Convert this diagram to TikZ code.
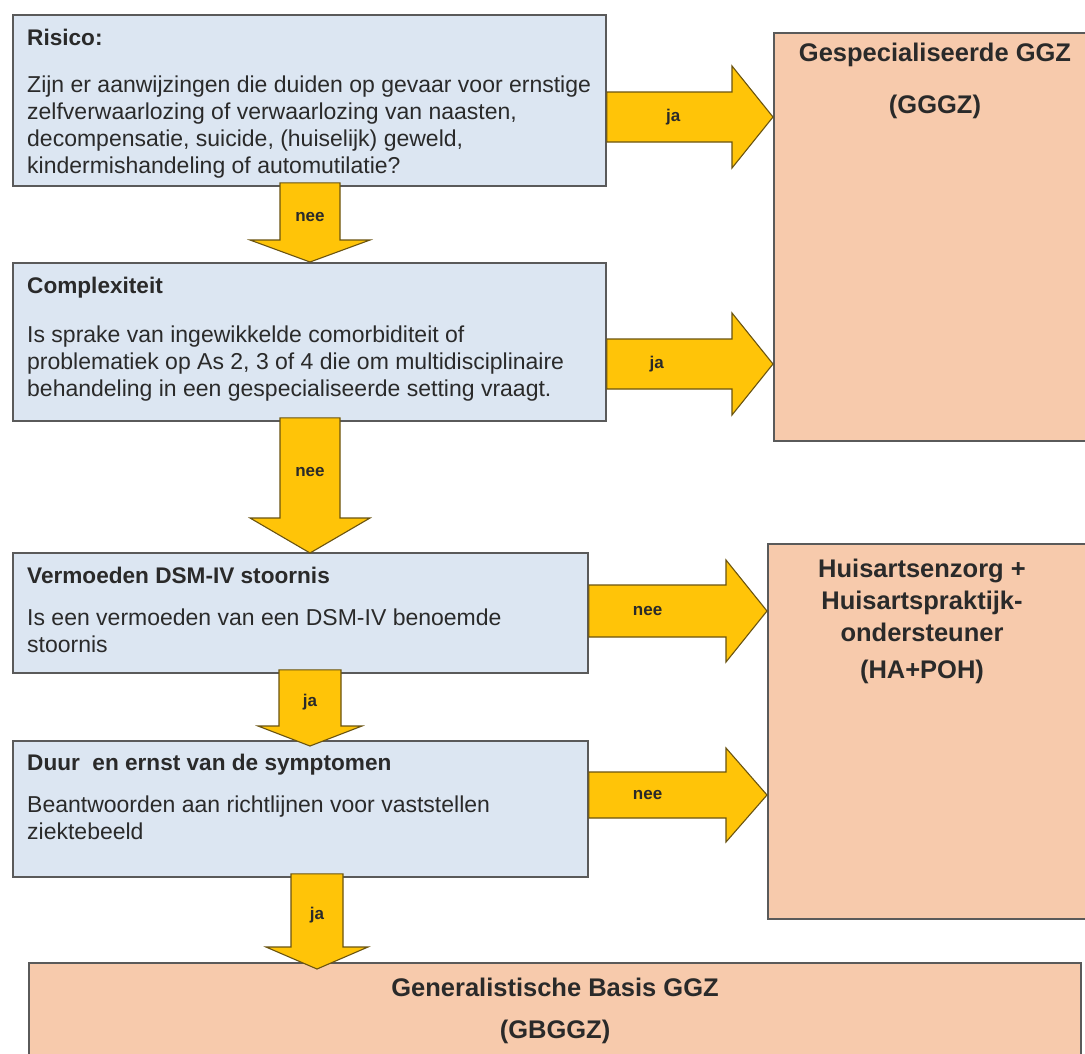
\documentclass[tikz,border=0pt]{standalone}
\usepackage{fontspec}
\setmainfont{Liberation Sans}
\usetikzlibrary{calc}
\definecolor{boxblue}{HTML}{DCE6F2}
\definecolor{boxorange}{HTML}{F7CAAC}
\definecolor{arrowgold}{HTML}{FFC408}
\definecolor{arrowedge}{HTML}{6B5410}
\definecolor{boxedge}{HTML}{5A5A5A}
\definecolor{txt}{HTML}{2A2A2A}

% from, to, y, shaft half, head half, label position, label
\newcommand\harrowlbl[7]{%
  \path (0,#3) coordinate (hy) (#1.east |- hy) coordinate (hs) (#2.west |- hy) coordinate (ht);
  \draw[flowarrow] ($(hs)+(0,-#4)$) -- ($(ht)+(-41,-#4)$) -- ($(ht)+(-41,-#5)$) -- (ht)
     -- ($(ht)+(-41,#5)$) -- ($(ht)+(-41,#4)$) -- ($(hs)+(0,#4)$) -- cycle;
  \node[arrowlabel] at ($(hs)!#6!(ht)$) {#7};}
% from, to, x, shaft half, head half, head length, tip overshoot, label y, label
\newcommand\varrow[9]{%
  \path (#3,0) coordinate (vx) (#1.south -| vx) coordinate (vs) ($(#2.north -| vx)+(0,#7)$) coordinate (vt);
  \draw[flowarrow] ($(vs)+(-#4,-4)$) -- ($(vt)+(-#4,-#6)$) -- ($(vt)+(-#5,-#6)$) -- (vt)
     -- ($(vt)+(#5,-#6)$) -- ($(vt)+(#4,-#6)$) -- ($(vs)+(#4,-4)$) -- cycle;
  \node[arrowlabel] at (#3,#8) {#9};}

\begin{document}
\begin{tikzpicture}[x=1pt,y=-1pt,
  bluebox/.style={draw=boxedge, line width=1.8pt, fill=boxblue, inner sep=0, anchor=north west},
  orangebox/.style={draw=boxedge, line width=1.5pt, fill=boxorange, inner sep=0, anchor=north west},
  flowarrow/.style={draw=arrowedge, line width=1.1pt, fill=arrowgold, line join=miter},
  arrowlabel/.style={font=\fontsize{17}{19}\selectfont\bfseries, text=txt, inner sep=0},
  boxtitle/.style={font=\fontsize{22.6}{27}\selectfont\bfseries, text=txt, anchor=base west, inner sep=0},
  boxbody/.style={font=\fontsize{23}{27}\selectfont, text=txt, anchor=north west, inner sep=0, align=left},
  outtitle/.style={font=\fontsize{25.5}{32}\selectfont\bfseries, text=txt, inner sep=0, align=center}]

\useasboundingbox (0,0) rectangle (1085,1053);
\fill[white] (0,0) rectangle (1085,1053);

% outcome boxes
\node[orangebox, minimum width=340, minimum height=408] (g1) at (773,32) {};
\node[orangebox, minimum width=346, minimum height=375] (g2) at (767,543) {};
\node[orangebox, minimum width=1052, minimum height=130] (g3) at (28,962) {};

% question boxes
\node[bluebox, minimum width=593, minimum height=171] (b1) at (12,14) {};
\node[bluebox, minimum width=593, minimum height=158] (b2) at (12,262) {};
\node[bluebox, minimum width=575, minimum height=120] (b3) at (12,552) {};
\node[bluebox, minimum width=575, minimum height=136] (b4) at (12,740) {};

% texts in question boxes
\node[boxtitle] (t1) at (27,45) {Risico:};
\node[boxbody] (x1) at (27,76) {Zijn er aanwijzingen die duiden op gevaar voor ernstige\\zelfverwaarlozing of verwaarlozing van naasten,\\decompensatie, suicide, (huiselijk) geweld,\\kindermishandeling of automutilatie?};
\node[boxtitle] (t2) at (27,293) {Complexiteit};
\node[boxbody] (x2) at (27,326) {Is sprake van ingewikkelde comorbiditeit of\\problematiek op As 2, 3 of 4 die om multidisciplinaire\\behandeling in een gespecialiseerde setting vraagt.};
\node[boxtitle] (t3) at (27,583) {Vermoeden DSM-IV stoornis};
\node[boxbody] (x3) at (27,609) {Is een vermoeden van een DSM-IV benoemde\\stoornis};
\node[boxtitle] (t4) at (27,770) {Duur\ \ en ernst van de symptomen};
\node[boxbody] (x4) at (27,796) {Beantwoorden aan richtlijnen voor vaststellen\\ziektebeeld};

% texts in outcome boxes
\node[outtitle] (o1) at (935,55) {Gespecialiseerde GGZ};
\node[outtitle] (o1b) at (935,107) {(GGGZ)};
\node[outtitle] (o2) at (922,600) {Huisartsenzorg +\\Huisartspraktijk-\\ondersteuner};
\node[outtitle] (o2b) at (922,672) {(HA+POH)};
\node[outtitle] (o3) at (555,987) {Generalistische Basis GGZ};
\node[outtitle] (o3b) at (555,1032) {(GBGGZ)};

% horizontal arrows
\harrowlbl{b1}{g1}{117}{25}{51}{0.4}{ja}
\harrowlbl{b2}{g1}{364}{25}{51}{0.3}{ja}
\harrowlbl{b3}{g2}{611}{26}{51}{0.33}{nee}
\harrowlbl{b4}{g2}{795}{23}{47}{0.33}{nee}

% vertical arrows
\varrow{b1}{b2}{310}{30}{60}{22}{0}{217}{nee}
\varrow{b2}{b3}{310}{30}{60}{35}{1}{472}{nee}
\varrow{b3}{b4}{310}{31}{52}{20}{6}{702}{ja}
\varrow{b4}{g3}{317}{26}{51}{22}{7}{915}{ja}
\end{tikzpicture}
\end{document}
